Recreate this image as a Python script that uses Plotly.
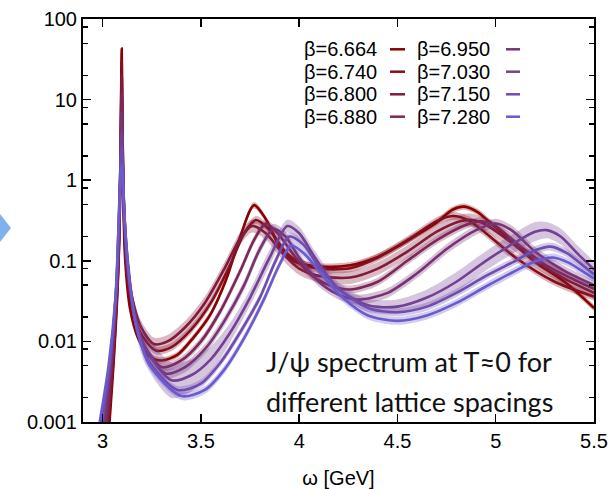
import plotly.graph_objects as go

# ---------------- data ----------------
betas = ["6.664", "6.740", "6.800", "6.880", "6.950", "7.030", "7.150", "7.280"]
colors = ["#8b0000", "#860d1d", "#821a3b", "#7d2758", "#783375", "#734092", "#6f4db0", "#6a5acd"]

x1 = [3.035, 3.06, 3.08, 3.09, 3.097, 3.103, 3.115, 3.14, 3.18, 3.24, 3.3, 3.38, 3.46, 3.55, 3.63, 3.7, 3.77, 3.83, 3.9, 3.97, 4.1, 4.26, 4.4, 4.5, 4.6, 4.7, 4.78, 4.84, 4.91, 4.97, 5.1, 5.2, 5.35, 5.5]
y1 = [0.001, 0.008, 0.08, 1.0, 43, 1.0, 0.1, 0.025, 0.011, 0.0065, 0.0058, 0.0068, 0.011, 0.022, 0.06, 0.2, 0.49, 0.33, 0.15, 0.1, 0.085, 0.088, 0.112, 0.15, 0.21, 0.30, 0.43, 0.47, 0.40, 0.30, 0.16, 0.097, 0.055, 0.026]
e1 = [0.04] * 4 + [0.0] + [0.04] * 29

x2 = [3.03, 3.058, 3.08, 3.09, 3.097, 3.104, 3.118, 3.145, 3.19, 3.27, 3.35, 3.45, 3.55, 3.65, 3.72, 3.78, 3.85, 3.93, 4.0, 4.1, 4.26, 4.4, 4.55, 4.7, 4.78, 4.86, 4.95, 5.1, 5.3, 5.5]
y2 = [0.001, 0.008, 0.09, 1.0, 30, 1.0, 0.1, 0.03, 0.013, 0.0077, 0.0085, 0.014, 0.03, 0.09, 0.22, 0.32, 0.24, 0.13, 0.095, 0.08, 0.081, 0.11, 0.18, 0.31, 0.36, 0.32, 0.22, 0.11, 0.055, 0.036]
e2 = [0.05] * 4 + [0.0] + [0.05] * 25

x3 = [3.025, 3.055, 3.08, 3.09, 3.097, 3.105, 3.12, 3.15, 3.19, 3.26, 3.33, 3.42, 3.52, 3.62, 3.7, 3.76, 3.83, 3.92, 4.0, 4.1, 4.26, 4.4, 4.55, 4.7, 4.82, 4.88, 4.95, 5.05, 5.2, 5.35, 5.5]
y3 = [0.001, 0.008, 0.1, 1.0, 20, 1.0, 0.1, 0.035, 0.016, 0.0093, 0.01, 0.015, 0.03, 0.08, 0.19, 0.27, 0.22, 0.12, 0.08, 0.065, 0.062, 0.08, 0.13, 0.23, 0.31, 0.32, 0.28, 0.19, 0.1, 0.06, 0.04]
e3 = [0.07] * 4 + [0.0] + [0.08] * 26

x4 = [3.02, 3.05, 3.078, 3.088, 3.097, 3.106, 3.122, 3.155, 3.2, 3.3, 3.4, 3.5, 3.6, 3.7, 3.77, 3.83, 3.89, 3.97, 4.05, 4.15, 4.26, 4.4, 4.55, 4.7, 4.85, 4.93, 5.0, 5.1, 5.25, 5.4, 5.5]
y4 = [0.001, 0.007, 0.08, 0.8, 12, 0.8, 0.1, 0.025, 0.01, 0.0048, 0.0058, 0.01, 0.024, 0.075, 0.18, 0.29, 0.22, 0.12, 0.07, 0.05, 0.044, 0.055, 0.1, 0.18, 0.28, 0.31, 0.27, 0.17, 0.09, 0.058, 0.045]
e4 = [0.05] * 4 + [0.0] + [0.05] * 26

x5 = [3.01, 3.045, 3.075, 3.087, 3.097, 3.107, 3.125, 3.16, 3.21, 3.32, 3.42, 3.52, 3.62, 3.72, 3.8, 3.87, 3.93, 4.0, 4.1, 4.2, 4.3, 4.45, 4.6, 4.75, 4.9, 5.0, 5.08, 5.2, 5.35, 5.5]
y5 = [0.001, 0.006, 0.07, 0.6, 7, 0.6, 0.1, 0.022, 0.009, 0.004, 0.0048, 0.008, 0.018, 0.05, 0.14, 0.25, 0.2, 0.11, 0.055, 0.038, 0.033, 0.04, 0.07, 0.14, 0.24, 0.29, 0.24, 0.13, 0.075, 0.05]
e5 = [0.06] * 4 + [0.0] + [0.06] * 25

x6 = [3.0, 3.04, 3.07, 3.085, 3.097, 3.108, 3.128, 3.165, 3.22, 3.35, 3.45, 3.55, 3.65, 3.75, 3.85, 3.94, 4.0, 4.08, 4.2, 4.35, 4.5, 4.65, 4.8, 4.95, 5.1, 5.2, 5.26, 5.33, 5.42, 5.5]
y6 = [0.001, 0.006, 0.05, 0.5, 4, 0.5, 0.1, 0.02, 0.008, 0.0033, 0.0038, 0.006, 0.013, 0.035, 0.11, 0.27, 0.22, 0.11, 0.045, 0.028, 0.027, 0.035, 0.055, 0.1, 0.17, 0.23, 0.24, 0.2, 0.12, 0.078]
e6 = [0.08] * 4 + [0.0] + [0.08, 0.1, 0.15, 0.2, 0.22, 0.2, 0.16, 0.12, 0.1, 0.1, 0.08, 0.08, 0.08, 0.08, 0.08, 0.09, 0.1, 0.12, 0.12, 0.12, 0.12, 0.1, 0.1, 0.1, 0.1]

x7 = [2.995, 3.035, 3.068, 3.083, 3.097, 3.11, 3.13, 3.17, 3.23, 3.38, 3.5, 3.6, 3.7, 3.8, 3.88, 3.95, 4.02, 4.1, 4.2, 4.35, 4.5, 4.65, 4.8, 4.95, 5.1, 5.2, 5.28, 5.36, 5.45, 5.5]
y7 = [0.001, 0.005, 0.04, 0.4, 2.5, 0.4, 0.08, 0.016, 0.006, 0.0025, 0.003, 0.0055, 0.013, 0.035, 0.1, 0.2, 0.16, 0.085, 0.045, 0.026, 0.023, 0.027, 0.04, 0.065, 0.1, 0.135, 0.15, 0.125, 0.085, 0.068]
e7 = [0.05] * 4 + [0.0] + [0.05] * 25

x8 = [2.985, 3.03, 3.065, 3.082, 3.097, 3.112, 3.135, 3.175, 3.24, 3.4, 3.52, 3.62, 3.72, 3.82, 3.9, 3.96, 4.03, 4.12, 4.22, 4.35, 4.5, 4.65, 4.8, 4.95, 5.1, 5.2, 5.29, 5.37, 5.45, 5.5]
y8 = [0.001, 0.005, 0.035, 0.3, 1.6, 0.3, 0.06, 0.014, 0.005, 0.0021, 0.0025, 0.0045, 0.011, 0.033, 0.09, 0.155, 0.12, 0.065, 0.035, 0.021, 0.018, 0.021, 0.03, 0.048, 0.075, 0.098, 0.11, 0.095, 0.072, 0.06]
e8 = [0.05] * 4 + [0.0] + [0.05] * 25

xs = [x1, x2, x3, x4, x5, x6, x7, x8]
ys = [y1, y2, y3, y4, y5, y6, y7, y8]
es = [e1, e2, e3, e4, e5, e6, e7, e8]

xtick_vals = [3, 3.5, 4, 4.5, 5, 5.5]
xtick_text = ["3", "3.5", "4", "4.5", "5", "5.5"]
ytick_vals = [0.001, 0.01, 0.1, 1, 10, 100]
ytick_text = ["0.001", "0.01", "0.1", "1", "10", "100"]
yminor_vals = [m * 10.0 ** k for k in range(-3, 2) for m in (2, 5, 8)]

note_lines = ["J/ψ spectrum at T≈0 for", "different lattice spacings"]
xlabel = "ω [GeV]"

# ---------------- layout helpers ----------------
W, H = 609, 489
L, R, T, B = 83, 594, 19, 422


def px(xp):
    return (xp - L) / (R - L)


def py(yp):
    return (B - yp) / (B - T)


def rgba(hexc, a):
    h = hexc.lstrip("#")
    return "rgba(%d,%d,%d,%s)" % (int(h[0:2], 16), int(h[2:4], 16), int(h[4:6], 16), a)


fig = go.Figure()
for x, y, e, c in zip(xs, ys, es, colors):
    up = [v * 10 ** d for v, d in zip(y, e)]
    lo = [v / 10 ** d for v, d in zip(y, e)]
    fig.add_trace(go.Scatter(x=x, y=up, mode="lines", line=dict(width=0, shape="spline", smoothing=0.8),
                             hoverinfo="skip", showlegend=False))
    fig.add_trace(go.Scatter(x=x, y=lo, mode="lines", line=dict(width=0, shape="spline", smoothing=0.8),
                             fill="tonexty", fillcolor=rgba(c, 0.3), hoverinfo="skip", showlegend=False))
    fig.add_trace(go.Scatter(x=x, y=y, mode="lines", line=dict(color=c, width=2.6, shape="spline", smoothing=0.8),
                             hoverinfo="skip", showlegend=False))

font_tick = dict(family="Liberation Sans, Arial, sans-serif", size=20, color="black")

fig.update_xaxes(range=[2.9, 5.5], automargin=False, showgrid=False, zeroline=False, showline=True,
                 linecolor="black", linewidth=2, mirror="ticks", ticks="inside", ticklen=8, tickwidth=1.5,
                 tickcolor="black", tickvals=xtick_vals, ticktext=xtick_text, tickfont=font_tick,
                 title=dict(text=xlabel, font=font_tick, standoff=20))
fig.update_yaxes(type="log", range=[-3, 2], automargin=False, showgrid=False, zeroline=False, showline=True,
                 linecolor="black", linewidth=2, mirror="ticks", ticks="inside", ticklen=8, tickwidth=1.5,
                 tickcolor="black", tickvals=ytick_vals, ticktext=ytick_text, tickfont=font_tick,
                 minor=dict(tickvals=yminor_vals, ticks="inside", ticklen=5, tickwidth=1.5, tickcolor="black"))

annotations = []
shapes = []
row_y = [49.3, 71.7, 94.3, 116.7]
col_text_right = [379, 492]
col_line = [(390, 405), (506, 520)]
for i, (b, c) in enumerate(zip(betas, colors)):
    col, row = divmod(i, 4)
    annotations.append(dict(x=px(col_text_right[col]), y=py(row_y[row]), xref="paper", yref="paper",
                            text="β=" + b, showarrow=False, xanchor="right", yanchor="middle",
                            font=dict(family="Liberation Sans, Arial, sans-serif", size=20, color="black")))
    x0, x1_ = col_line[col]
    shapes.append(dict(type="line", xref="paper", yref="paper", x0=px(x0), x1=px(x1_),
                       y0=py(row_y[row]), y1=py(row_y[row]), line=dict(color=c, width=2.5)))

for ln, yc in zip(note_lines, [361, 401]):
    annotations.append(dict(x=px(264), y=py(yc), xref="paper", yref="paper", text=ln, showarrow=False,
                            xanchor="left", yanchor="middle",
                            font=dict(family="Lato, sans-serif", size=27, color="#111111")))

# slide arrow fragment at the left edge
shapes.append(dict(type="path", xref="paper", yref="paper",
                   path="M %f %f L %f %f L %f %f Z" % (px(0), py(214), px(11), py(228), px(0), py(242)),
                   fillcolor="#7fb2ec", line=dict(width=0)))

fig.update_layout(width=W, height=H, margin=dict(l=L, r=W - R, t=T, b=H - B, autoexpand=False),
                  plot_bgcolor="white", paper_bgcolor="white",
                  annotations=annotations, shapes=shapes, showlegend=False)

fig.write_html("out.html", config={"displayModeBar": False, "staticPlot": True},
               post_script="document.body.style.margin='0';document.body.style.overflow='hidden';")
